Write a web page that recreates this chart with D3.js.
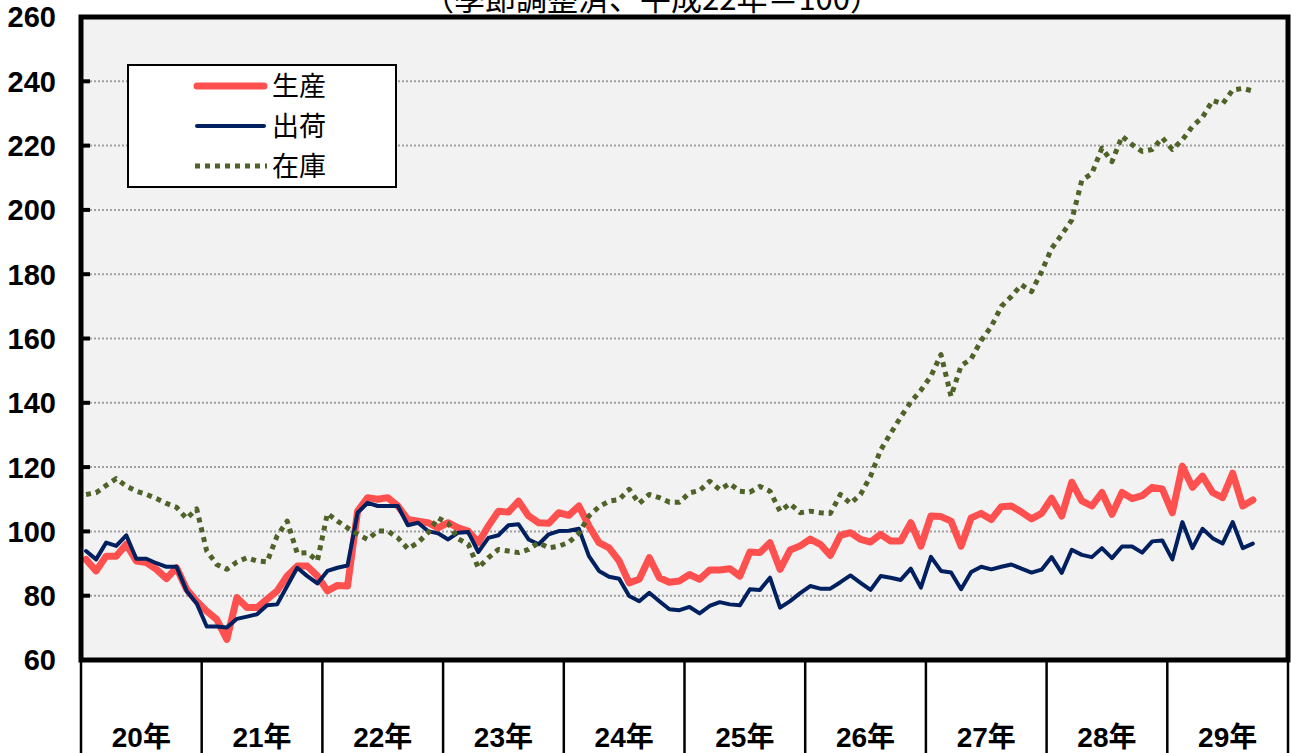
<!DOCTYPE html>
<html>
<head>
<meta charset="utf-8">
<script src="https://cdn.jsdelivr.net/npm/d3@7"></script>
<style>
  html, body { margin: 0; padding: 0; background: #ffffff; }
  svg { display: block; }
</style>
</head>
<body>
<svg id="chart" width="1291" height="753"></svg>
<script>
// 年ラベル（平成）
const years = ['20年', '21年', '22年', '23年', '24年', '25年', '26年', '27年', '28年', '29年'];
const y_ticks = [60, 80, 100, 120, 140, 160, 180, 200, 220, 240, 260];
const title_text = '（季節調整済、平成22年＝100）';
const series_names = ['生産', '出荷', '在庫'];

// 月次データ 平成20年1月〜29年9月
const production = [
  91.3, 87.7, 92.3, 92.3, 96.0, 90.8, 90.3, 88.2, 85.3, 88.7, 82.0, 78.3,
  75.2, 72.6, 66.4, 79.4, 76.3, 76.3, 78.9, 81.5, 86.1, 89.2, 89.2, 86.1,
  81.5, 83.2, 83.0, 106.3, 110.5, 110.0, 110.5, 107.9, 103.7, 103.2, 102.7, 101.1,
  102.7, 101.1, 100.1, 96.5, 101.7, 106.3, 106.0, 109.4, 104.8, 102.7, 102.5, 105.8,
  105.0, 107.9, 101.7, 96.5, 94.9, 90.8, 84.0, 85.1, 91.8, 85.6, 84.2, 84.6,
  86.6, 85.1, 88.0, 88.0, 88.4, 86.1, 93.6, 93.4, 96.5, 88.2, 94.2, 95.5,
  97.6, 96.0, 92.5, 98.8, 99.6, 97.5, 96.7, 99.1, 97.0, 97.0, 102.7, 95.4,
  104.8, 104.6, 103.2, 95.4, 104.2, 105.6, 103.7, 107.7, 107.9, 106.0, 103.9, 105.6,
  110.3, 104.8, 115.3, 109.5, 107.9, 112.1, 105.3, 112.1, 110.2, 111.1, 113.7, 113.2,
  105.8, 120.3, 113.7, 117.2, 112.1, 110.5, 118.1, 107.9, 109.8
];
const shipments = [
  93.9, 91.3, 96.5, 95.5, 98.8, 91.5, 91.5, 90.1, 89.0, 89.0, 81.5, 77.6,
  70.4, 70.4, 70.1, 72.8, 73.5, 74.2, 77.0, 77.3, 83.0, 88.7, 86.1, 83.8,
  87.7, 88.7, 89.4, 105.8, 108.9, 107.9, 107.9, 107.9, 101.9, 102.7, 100.1, 99.4,
  97.5, 99.6, 99.8, 93.6, 98.0, 98.8, 101.9, 102.2, 97.5, 96.0, 99.1, 100.1,
  100.2, 100.8, 92.3, 87.7, 85.9, 85.3, 79.9, 78.3, 80.9, 78.3, 75.8, 75.5,
  76.5, 74.5, 76.8, 78.0, 77.3, 77.0, 82.0, 81.8, 85.6, 76.3, 78.3, 80.8,
  83.0, 82.2, 82.2, 84.2, 86.3, 84.0, 81.8, 86.1, 85.6, 84.9, 88.4, 82.5,
  92.1, 87.7, 87.2, 82.0, 87.4, 89.0, 88.2, 89.0, 89.7, 88.4, 87.2, 88.1,
  92.0, 87.1, 94.3, 92.7, 92.0, 94.8, 91.7, 95.3, 95.3, 93.4, 96.9, 97.2,
  91.3, 102.9, 94.8, 100.8, 97.9, 96.2, 102.9, 94.8, 96.2
];
const inventory = [
  111.5, 112.0, 114.3, 116.4, 114.1, 112.5, 111.5, 110.2, 108.7, 107.5, 104.0, 107.0,
  93.9, 89.7, 88.2, 90.5, 91.8, 90.8, 90.5, 98.6, 103.2, 93.2, 93.4, 90.8,
  105.6, 103.2, 101.1, 99.1, 97.5, 100.1, 100.1, 98.0, 94.6, 96.5, 99.6, 104.2,
  102.5, 97.7, 96.0, 88.7, 91.8, 94.4, 93.9, 93.4, 94.4, 96.5, 94.9, 95.4,
  96.6, 99.4, 104.8, 107.7, 109.4, 109.9, 113.1, 108.7, 111.5, 110.5, 109.1, 109.1,
  112.0, 112.7, 115.6, 113.0, 114.9, 112.5, 112.2, 114.0, 112.5, 106.3, 108.6, 105.8,
  106.3, 105.8, 105.6, 111.5, 108.7, 111.5, 117.2, 125.3, 130.5, 135.6, 140.2, 143.9,
  148.3, 155.0, 142.0, 151.5, 153.7, 159.4, 163.7, 170.0, 173.1, 176.7, 174.6, 180.8,
  188.0, 192.3, 196.8, 209.2, 211.3, 219.2, 215.0, 222.9, 220.3, 218.2, 218.8, 222.4,
  218.8, 221.8, 226.0, 228.8, 234.0, 233.0, 237.3, 237.8, 237.0
];

const svg = d3.select('#chart');

const plot_left = 81;
const plot_right = 1288;
const plot_top = 17;
const plot_bottom = 660;
const months_total = years.length * 12;

const x_scale = d3.scaleLinear().domain([0, months_total]).range([plot_left, plot_right]);
const y_scale = d3.scaleLinear().domain([60, 260]).range([plot_bottom, plot_top]);

// title (cut off at the top, as in the source)
svg.append('text')
  .attr('x', 652)
  .attr('y', 10)
  .attr('text-anchor', 'middle')
  .attr('font-family', '"Noto Sans CJK JP", sans-serif')
  .attr('font-size', 31)
  .attr('fill', '#000')
  .text(title_text);

// plot background
svg.append('rect')
  .attr('x', plot_left)
  .attr('y', plot_top)
  .attr('width', plot_right - plot_left)
  .attr('height', plot_bottom - plot_top)
  .attr('fill', '#f2f2f2');

// gridlines
svg.append('g')
  .selectAll('line')
  .data(y_ticks.filter(d => d > 60 && d < 260))
  .join('line')
  .attr('x1', plot_left + 9)
  .attr('x2', plot_right - 3)
  .attr('y1', d => y_scale(d))
  .attr('y2', d => y_scale(d))
  .attr('stroke', '#a0a0a0')
  .attr('stroke-width', 2)
  .attr('stroke-dasharray', '2,2');

// y ticks (inward)
svg.append('g')
  .selectAll('line')
  .data(y_ticks)
  .join('line')
  .attr('x1', plot_left)
  .attr('x2', plot_left + 9)
  .attr('y1', d => y_scale(d))
  .attr('y2', d => y_scale(d))
  .attr('stroke', '#000')
  .attr('stroke-width', 4);

// y labels
svg.append('g')
  .selectAll('text')
  .data(y_ticks)
  .join('text')
  .attr('x', 56)
  .attr('y', d => y_scale(d))
  .attr('dy', '0.36em')
  .attr('text-anchor', 'end')
  .attr('font-family', '"Liberation Sans", Arial, sans-serif')
  .attr('font-weight', 'bold')
  .attr('font-size', 29)
  .attr('fill', '#000')
  .text(d => d);

// x axis: year separators and labels
svg.append('g')
  .selectAll('line')
  .data(d3.range(years.length + 1))
  .join('line')
  .attr('x1', d => x_scale(d * 12))
  .attr('x2', d => x_scale(d * 12))
  .attr('y1', plot_bottom)
  .attr('y2', 753)
  .attr('stroke', '#000')
  .attr('stroke-width', 2.5);

svg.append('g')
  .selectAll('text')
  .data(years)
  .join('text')
  .attr('x', (d, i) => x_scale(i * 12 + 6))
  .attr('y', 747)
  .attr('text-anchor', 'middle')
  .attr('font-family', '"Liberation Sans", "Noto Sans CJK JP", sans-serif')
  .attr('font-weight', 'bold')
  .attr('font-size', 28)
  .attr('fill', '#000')
  .text(d => d);

// series
const line = d3.line()
  .x((d, i) => x_scale(i + 0.5))
  .y(d => y_scale(d));

const series = [
  { name: series_names[0], values: production, color: '#ff5050', width: 7, dash: null },
  { name: series_names[1], values: shipments, color: '#002060', width: 4, dash: null },
  { name: series_names[2], values: inventory, color: '#4f6228', width: 5, dash: '5,5' }
];

for (const s of series) {
  svg.append('path')
    .datum(s.values)
    .attr('fill', 'none')
    .attr('stroke', s.color)
    .attr('stroke-width', s.width)
    .attr('stroke-linejoin', 'round')
    .attr('stroke-linecap', s.dash ? 'butt' : 'round')
    .attr('stroke-dasharray', s.dash)
    .attr('d', line);
}

// plot frame
svg.append('rect')
  .attr('x', plot_left)
  .attr('y', plot_top)
  .attr('width', plot_right - plot_left)
  .attr('height', plot_bottom - plot_top)
  .attr('fill', 'none')
  .attr('stroke', '#000')
  .attr('stroke-width', 5);

// legend
const legend = svg.append('g');
legend.append('rect')
  .attr('x', 128)
  .attr('y', 65)
  .attr('width', 268)
  .attr('height', 122)
  .attr('fill', '#fff')
  .attr('stroke', '#000')
  .attr('stroke-width', 2);

const legend_rows = [86, 126, 166];
series.forEach((s, i) => {
  legend.append('line')
    .attr('x1', s.dash ? 195 : 197)
    .attr('x2', s.dash ? 267 : 264)
    .attr('y1', legend_rows[i])
    .attr('y2', legend_rows[i])
    .attr('stroke', s.color)
    .attr('stroke-width', s.width)
    .attr('stroke-linecap', s.dash ? 'butt' : 'round')
    .attr('stroke-dasharray', s.dash);
  legend.append('text')
    .attr('x', 272)
    .attr('y', legend_rows[i])
    .attr('dy', '0.36em')
    .attr('font-family', '"Noto Sans CJK JP", sans-serif')
    .attr('font-size', 27)
    .attr('fill', '#000')
    .text(s.name);
});
</script>
</body>
</html>
